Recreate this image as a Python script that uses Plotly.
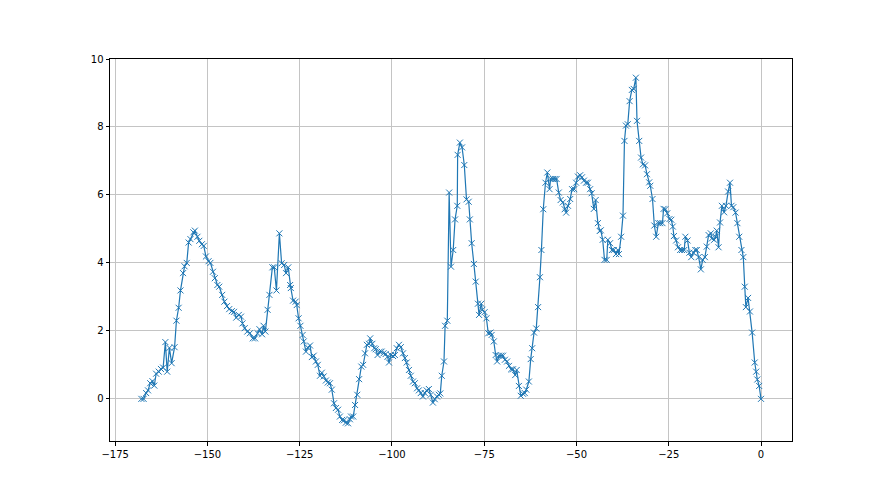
import plotly.graph_objects as go

x_vals = [
    -167.9, -167.3, -166.6, -166.1, -165.5, -164.9, -164.4, -163.9, -163.2, -162.6,
    -162.0, -161.4, -160.9, -160.3, -159.7, -158.9, -158.4, -157.8, -157.3, -156.6,
    -156.2, -155.6, -155.1, -154.6, -153.8, -153.4, -152.7, -152.2, -151.5, -151.0,
    -150.4, -149.7, -149.2,
    -148.5, -148.0, -147.3, -146.8, -146.0, -145.4, -144.7, -144.1, -143.4, -142.8,
    -142.2, -141.5, -140.9, -140.5, -139.9, -139.2, -138.5, -137.7, -137.1, -136.4,
    -135.9, -135.2, -134.8, -134.3, -133.7, -133.2, -132.4, -131.9, -131.3, -130.5,
    -129.9, -129.2, -128.7, -128.1, -127.6,
    -127.4, -126.8, -126.1, -125.8, -125.3, -124.8, -124.2, -123.9, -123.3, -122.8,
    -122.2, -121.7, -121.2, -120.6, -120.1, -119.5, -119.0, -118.5, -117.9, -117.4,
    -116.8, -116.3, -115.7, -115.2, -114.6, -114.1, -113.5, -113.0, -112.5, -111.9,
    -111.4, -111.1, -110.5, -110.0, -109.4, -108.9, -108.3, -107.8, -107.3,
    -106.8, -106.2, -105.9, -105.3, -104.8, -104.4, -103.9, -103.3, -102.8, -102.3,
    -101.7, -101.2, -100.8, -100.3, -99.7, -99.2, -98.7, -98.1, -97.6, -97.0,
    -96.5, -96.0, -95.4, -94.9, -94.3, -93.8, -93.2, -92.7, -92.2, -91.6,
    -91.1, -90.6, -90.0, -89.5, -88.9, -88.4, -87.8, -87.3,
    -86.9, -86.5, -85.9, -85.6, -85.0, -84.5, -84.0, -83.4, -82.9, -82.3,
    -82.2, -81.6, -81.0, -80.4, -79.8, -79.2, -78.9, -78.4, -77.8, -77.3,
    -76.7, -76.4, -75.8, -75.5, -74.9, -74.4, -73.9, -73.3, -73.0, -72.4,
    -71.9, -71.5, -71.0, -70.4, -69.9, -69.4, -68.8, -68.3, -67.7, -67.2, -66.6,
    -66.2, -65.6, -65.1, -64.5, -64.0, -63.6, -62.9, -62.4, -62.0, -61.5,
    -60.9, -60.4, -59.9, -59.5, -59.0, -58.4, -57.9, -57.3, -57.0, -56.4,
    -55.9, -55.4, -54.8, -54.3, -53.7, -53.2, -52.8, -52.3, -51.7, -51.2,
    -50.6, -50.1, -49.6, -49.0, -48.5, -48.0, -47.4, -46.9, -46.3,
    -45.9, -45.3, -44.8, -44.2, -43.7, -43.4, -42.9, -42.4, -41.8, -41.5,
    -40.9, -40.4, -39.9, -39.3, -38.8, -38.5, -37.9, -37.4, -37.0, -36.6,
    -36.1, -35.6, -35.0, -34.5, -33.9, -33.6, -33.0, -32.5, -32.0, -31.4,
    -30.9, -30.3, -30.0, -29.4, -28.9, -28.4, -27.8, -27.3, -26.7, -26.4,
    -25.9, -25.4, -24.8, -24.3, -23.9, -23.6, -23.0, -22.5, -21.9, -21.4,
    -20.8, -20.5, -19.9, -19.4, -18.9, -18.3, -17.8, -17.4, -16.9, -16.3,
    -15.8, -15.2, -14.7, -14.2, -13.6, -13.3, -12.7, -12.3, -12.0, -11.5,
    -11.1, -10.6, -10.0, -9.5, -8.9, -8.4, -8.0, -7.5, -6.9, -6.4,
    -5.9, -5.3, -4.8, -4.4, -4.1, -3.5, -3.0, -2.4, -1.7, -1.3,
    -1.0, -0.5, 0.0,
]

y_vals = [
    0.0, 0.0, 0.17, 0.25, 0.46, 0.52, 0.39, 0.74, 0.8, 0.88,
    0.92, 1.67, 0.8, 1.5, 1.05, 1.52, 2.3, 2.68, 3.19, 3.7,
    3.9, 4.0, 4.6, 4.7, 4.9, 4.95, 4.77, 4.65, 4.55, 4.5,
    4.19, 4.05, 4.0,
    3.74, 3.55, 3.35, 3.3, 3.06, 2.86, 2.73, 2.64, 2.58, 2.56,
    2.39, 2.47, 2.42, 2.22, 2.08, 1.98, 1.93, 1.78, 1.78, 1.93,
    2.05, 1.9, 2.15, 1.98, 2.62, 3.06, 3.87, 3.87, 3.19, 4.87,
    3.99, 3.94, 3.7, 3.87, 3.35,
    3.26, 2.89, 2.86, 2.76, 2.37, 2.15, 1.88, 1.69, 1.39, 1.51,
    1.57, 1.23, 1.27, 1.1, 1.0, 0.68, 0.77, 0.66, 0.54, 0.48,
    0.46, 0.27, -0.13, -0.27, -0.32, -0.52, -0.62, -0.63, -0.7, -0.72,
    -0.6, -0.52, -0.52, -0.18, 0.12, 0.58, 0.95, 1.0, 1.34,
    1.59, 1.62, 1.78, 1.62, 1.49, 1.46, 1.29, 1.39, 1.39, 1.34,
    1.32, 1.24, 1.07, 1.29, 1.26, 1.29, 1.49, 1.59, 1.52, 1.34,
    1.2, 1.07, 0.85, 0.68, 0.51, 0.46, 0.31, 0.25, 0.17, 0.07,
    0.17, 0.25, 0.29, 0.12, -0.11, -0.01, 0.07, 0.12,
    0.16, 0.68, 1.1, 2.15, 2.3, 6.07, 3.89, 4.38, 5.28, 5.68,
    7.18, 7.54, 7.4, 6.88, 5.87, 5.8, 5.28, 4.58, 3.97, 3.45,
    2.8, 2.47, 2.8, 2.62, 2.55, 2.37, 1.93, 1.95, 1.88, 1.69,
    1.29, 1.1, 1.27, 1.27, 1.27, 1.15, 1.1, 0.97, 0.87, 0.87, 0.7,
    0.85, 0.38, 0.09, 0.15, 0.17, 0.27, 0.51, 1.17, 1.49, 1.95,
    2.07, 2.7, 3.58, 4.38, 5.58, 6.36, 6.66, 6.17, 6.47, 6.47,
    6.47, 6.47, 6.07, 5.85, 5.78, 5.58, 5.48, 5.68, 5.88, 6.17,
    6.17, 6.36, 6.54, 6.58, 6.52, 6.42, 6.36, 6.36, 6.17,
    6.05, 5.59, 5.85, 5.17, 4.94, 4.96, 4.68, 4.09, 4.09, 4.68,
    4.58, 4.38, 4.38, 4.26, 4.38, 4.26, 4.77, 5.39, 7.59, 8.04,
    8.08, 8.76, 9.09, 9.12, 9.45, 8.18, 7.59, 7.1, 6.9, 6.87,
    6.61, 6.37, 6.27, 5.88, 5.1, 4.77, 5.17, 5.17, 5.17, 5.59,
    5.58, 5.46, 5.29, 5.27, 5.07, 4.79, 4.66, 4.46, 4.38, 4.38,
    4.38, 4.77, 4.66, 4.3, 4.17, 4.3, 4.38, 4.38, 4.17, 3.81,
    4.09, 4.17, 4.48, 4.82, 4.87, 4.72, 4.68, 4.77, 4.95, 4.46,
    5.19, 5.68, 5.49, 5.68, 6.1, 6.36, 5.68, 5.64, 5.48, 5.17,
    4.77, 4.38, 4.17, 3.3, 2.7, 2.97, 2.57, 1.95, 1.07, 0.8,
    0.57, 0.38, 0.0,
]

x_ticks = [-175, -150, -125, -100, -75, -50, -25, 0]
y_ticks = [0, 2, 4, 6, 8, 10]

blue = "#1f77b4"

fig = go.Figure()
fig.add_trace(go.Scatter(
    x=x_vals, y=y_vals, mode="lines+markers",
    line=dict(color=blue, width=1.2),
    marker=dict(symbol="x-thin", size=6, line=dict(color=blue, width=1)),
    showlegend=False,
))

axis_common = dict(
    showgrid=True, gridcolor="#c4c4c4", gridwidth=0.8,
    zeroline=False, showline=True, linecolor="black", linewidth=1, mirror=True,
    ticks="outside", ticklen=3.5, tickcolor="black", tickwidth=0.8,
    tickfont=dict(family="DejaVu Sans", size=10, color="black"),
)

fig.update_layout(
    width=880, height=495,
    margin=dict(l=102, r=96, t=51, b=62),
    paper_bgcolor="white", plot_bgcolor="white",
    xaxis=dict(range=[-176.4, 8.4], tickvals=x_ticks, **axis_common),
    yaxis=dict(range=[-1.24, 10.0], tickvals=y_ticks, **axis_common),
)

fig.write_html("out.html")
